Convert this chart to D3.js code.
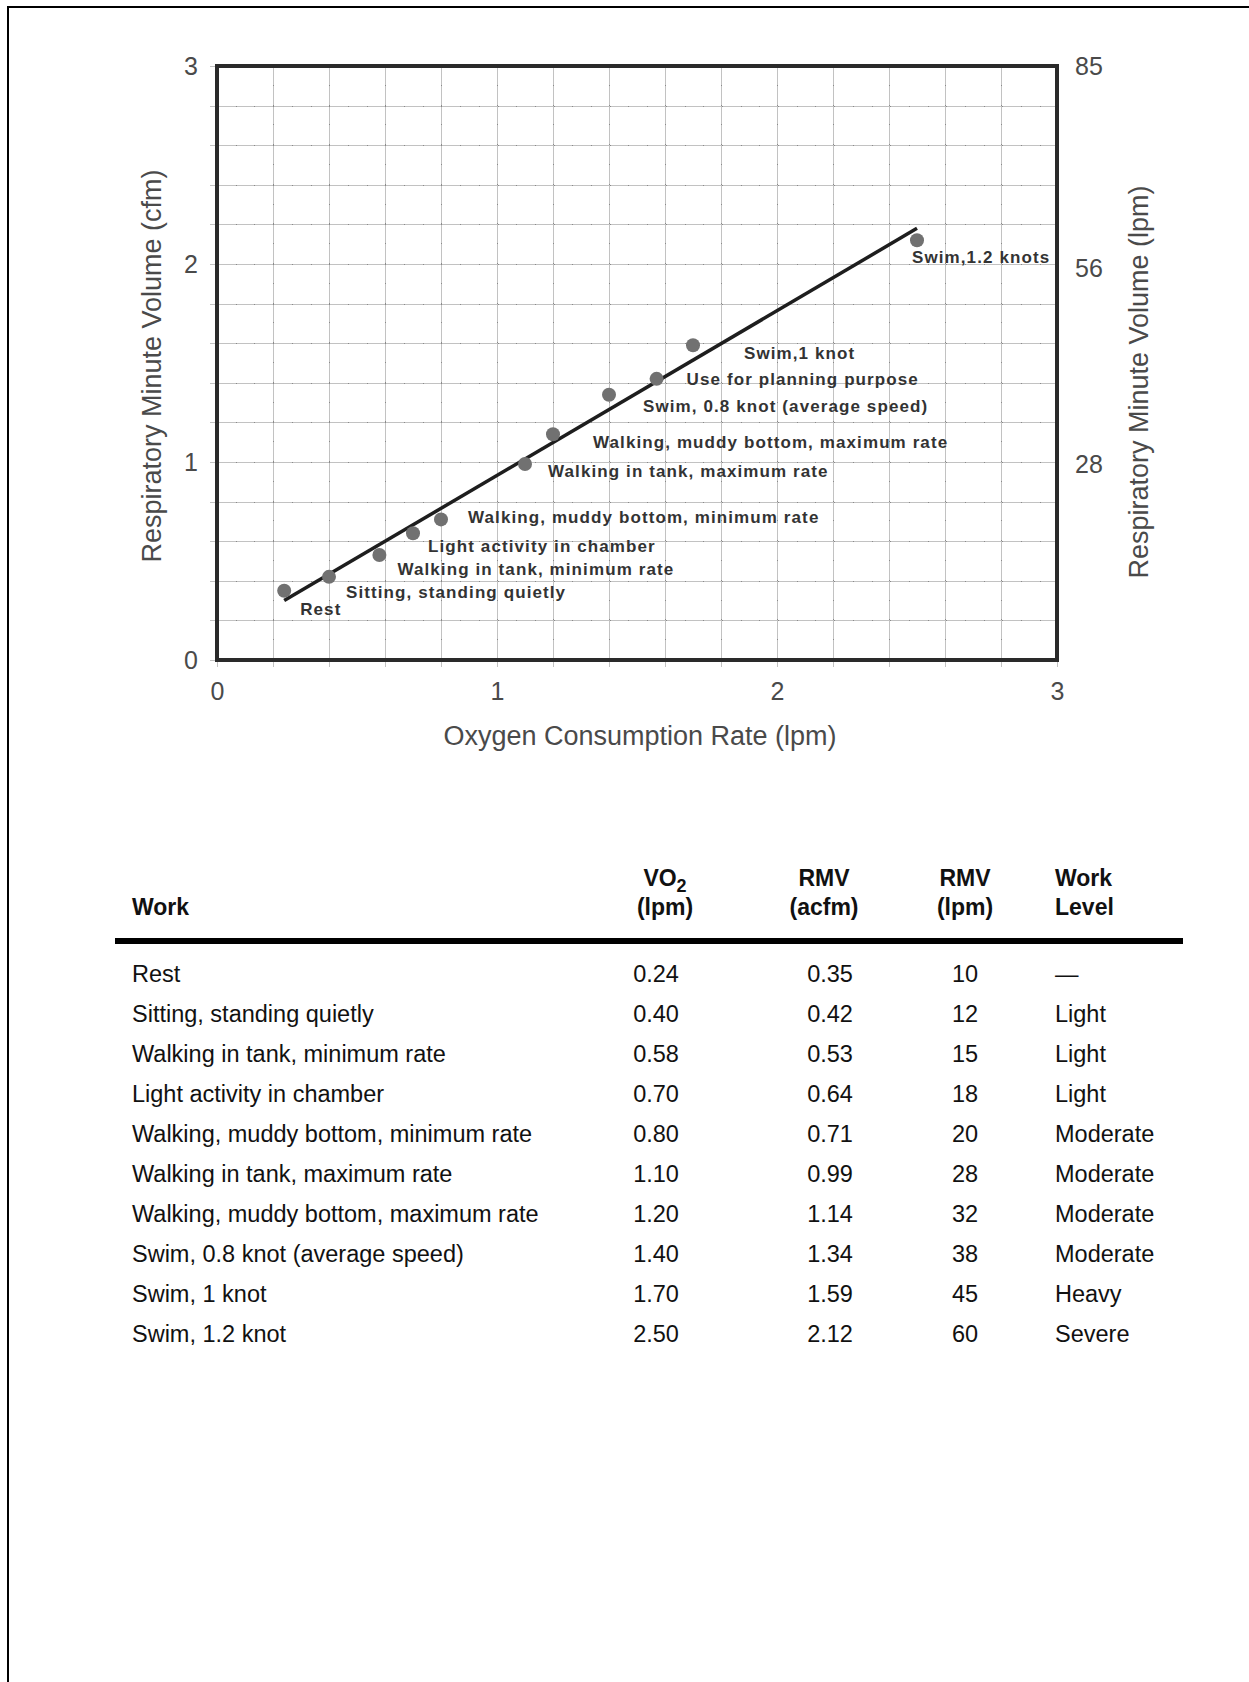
<!DOCTYPE html>
<html>
<head>
<meta charset="utf-8">
<script src="https://cdn.jsdelivr.net/npm/d3@7"></script>
<style>
  body { margin: 0; background: #fff; }
  svg { display: block; }
</style>
</head>
<body>
<div id="chart"></div>
<script>
// table data
var workNames = ["Rest", "Sitting, standing quietly", "Walking in tank, minimum rate",
    "Light activity in chamber", "Walking, muddy bottom, minimum rate",
    "Walking in tank, maximum rate", "Walking, muddy bottom, maximum rate",
    "Swim, 0.8 knot (average speed)", "Swim, 1 knot", "Swim, 1.2 knot"];
var vo2 = [0.24, 0.40, 0.58, 0.70, 0.80, 1.10, 1.20, 1.40, 1.70, 2.50];
var rmvAcfm = [0.35, 0.42, 0.53, 0.64, 0.71, 0.99, 1.14, 1.34, 1.59, 2.12];
var rmvLpm = [10, 12, 15, 18, 20, 28, 32, 38, 45, 60];
var workLevel = ["\u2014", "Light", "Light", "Light", "Moderate", "Moderate", "Moderate", "Moderate", "Heavy", "Severe"];

// chart annotations (as written on the graph)
var chartLabels = ["Rest", "Sitting, standing quietly", "Walking in tank, minimum rate",
    "Light activity in chamber", "Walking, muddy bottom, minimum rate",
    "Walking in tank, maximum rate", "Walking, muddy bottom, maximum rate",
    "Swim, 0.8 knot (average speed)", "Swim,1 knot", "Swim,1.2 knots"];
var planLabel = "Use for planning purpose";
var planVo2 = 1.57;
var planRmv = 1.42;

// fitted line ends
var fitX = [0.24, 2.50];
var fitY = [0.30, 2.18];

var xTicks = [0, 1, 2, 3];
var yTicks = [0, 1, 2, 3];
var y2Ticks = [28, 56, 85];

function init() {
    var W = 1249, H = 1682;
    var left = 217, top = 66, pw = 840, ph = 594;

    var svg = d3.select("#chart").append("svg")
        .attr("width", W).attr("height", H);

    // page frame
    svg.append("line").attr("x1", 8).attr("y1", 7).attr("x2", 8).attr("y2", H)
        .attr("stroke", "#000").attr("stroke-width", 2);
    svg.append("line").attr("x1", 7).attr("y1", 7).attr("x2", W).attr("y2", 7)
        .attr("stroke", "#000").attr("stroke-width", 2);

    var x = d3.scaleLinear().domain([0, 3]).range([left, left + pw]);
    var y = d3.scaleLinear().domain([0, 3]).range([top + ph, top]);
    var y2 = d3.scaleLinear().domain([0, 85]).range([top + ph, top]);

    // grid (extends a little outside to the left / below)
    var gx = svg.append("g")
        .attr("transform", "translate(0," + (top + ph + 7) + ")")
        .call(d3.axisBottom(x).tickValues(d3.range(0, 3.01, 0.2)).tickSize(-(ph + 7)).tickFormat(""));
    var gy = svg.append("g")
        .attr("transform", "translate(" + (left - 7) + ",0)")
        .call(d3.axisLeft(y).tickValues(d3.range(0, 3.01, 0.2)).tickSize(-(pw + 7)).tickFormat(""));
    [gx, gy].forEach(function(g) {
        g.select(".domain").remove();
        g.selectAll("line").attr("stroke", "#c2c2c2").attr("stroke-width", 1)
            .attr("shape-rendering", "crispEdges");
    });
    // dotted minor marks along the grid
    gx.selectAll(".tick").append("line")
        .attr("y1", -7).attr("y2", -(ph + 7))
        .attr("stroke", "#8a8a8a").attr("stroke-width", 1)
        .attr("stroke-dasharray", "1,18.8").attr("shape-rendering", "crispEdges");
    gy.selectAll(".tick").append("line")
        .attr("x1", 7).attr("x2", pw + 7)
        .attr("stroke", "#8a8a8a").attr("stroke-width", 1)
        .attr("stroke-dasharray", "1,17.7").attr("shape-rendering", "crispEdges");

    // plot frame
    svg.append("rect")
        .attr("x", left).attr("y", top).attr("width", pw).attr("height", ph)
        .attr("fill", "none").attr("stroke", "#2a2a2a").attr("stroke-width", 4);

    // tick labels
    var tickFont = "'Liberation Sans', Arial, sans-serif";
    var ax = svg.append("g").attr("transform", "translate(0," + (top + ph) + ")")
        .call(d3.axisBottom(x).tickValues(xTicks).tickSize(0).tickPadding(22).tickFormat(d3.format("d")));
    var ay = svg.append("g").attr("transform", "translate(" + left + ",0)")
        .call(d3.axisLeft(y).tickValues(yTicks).tickSize(0).tickPadding(19).tickFormat(d3.format("d")));
    var ay2 = svg.append("g").attr("transform", "translate(" + (left + pw) + ",0)")
        .call(d3.axisRight(y2).tickValues(y2Ticks).tickSize(0).tickPadding(18).tickFormat(d3.format("d")));
    [ax, ay, ay2].forEach(function(g) {
        g.select(".domain").remove();
        g.selectAll("text").attr("font-family", tickFont).attr("font-size", 25).attr("fill", "#4a4a4a");
    });

    // axis titles
    svg.append("text")
        .attr("x", 640).attr("y", 745)
        .attr("text-anchor", "middle")
        .attr("font-family", tickFont).attr("font-size", 27).attr("fill", "#4a4a4a")
        .text("Oxygen Consumption Rate (lpm)");
    svg.append("text")
        .attr("transform", "translate(161,366) rotate(-90)")
        .attr("text-anchor", "middle")
        .attr("font-family", tickFont).attr("font-size", 27).attr("fill", "#4a4a4a")
        .text("Respiratory Minute Volume (cfm)");
    svg.append("text")
        .attr("transform", "translate(1148,382) rotate(-90)")
        .attr("text-anchor", "middle")
        .attr("font-family", tickFont).attr("font-size", 27).attr("fill", "#4a4a4a")
        .text("Respiratory Minute Volume (lpm)");

    // fitted line
    var line = d3.line().x(function(d) { return x(d[0]); }).y(function(d) { return y(d[1]); });
    svg.append("path")
        .datum(d3.zip(fitX, fitY))
        .attr("d", line)
        .attr("fill", "none").attr("stroke", "#1e1e1e").attr("stroke-width", 3.5);

    // points
    var pts = vo2.map(function(v, i) { return { x: v, y: rmvAcfm[i], label: chartLabels[i] }; });
    pts.push({ x: planVo2, y: planRmv, label: planLabel });
    var labelOffsets = [[16, 24], [17, 21], [18, 20], [15, 19], [27, 4], [23, 13], [40, 14],
        [34, 17], [51, 14], [-5, 23], [30, 6]];

    svg.selectAll("circle.pt")
        .data(pts).enter().append("circle")
        .attr("class", "pt")
        .attr("cx", function(d) { return x(d.x); })
        .attr("cy", function(d) { return y(d.y); })
        .attr("r", 7)
        .attr("fill", "#717171");

    svg.selectAll("text.lbl")
        .data(pts).enter().append("text")
        .attr("class", "lbl")
        .attr("x", function(d, i) { return x(d.x) + labelOffsets[i][0]; })
        .attr("y", function(d, i) { return y(d.y) + labelOffsets[i][1]; })
        .attr("font-family", tickFont).attr("font-weight", "bold")
        .attr("font-size", 17).attr("letter-spacing", 1.1)
        .attr("fill", "#333")
        .text(function(d) { return d.label; });

    // table
    var tFont = "'Liberation Sans', Arial, Helvetica, sans-serif";
    var colWork = 132, colVo2 = 665, colAcfm = 824, colLpm = 965, colLevel = 1055;
    var head = svg.append("g").attr("font-family", tFont).attr("font-weight", "bold")
        .attr("font-size", 23).attr("fill", "#111");
    head.append("text").attr("x", colWork).attr("y", 915).text("Work");
    var vo = head.append("text").attr("x", colVo2).attr("y", 886).attr("text-anchor", "middle");
    vo.append("tspan").text("VO");
    vo.append("tspan").attr("dy", 6).attr("font-size", 18).text("2");
    head.append("text").attr("x", colVo2).attr("y", 915).attr("text-anchor", "middle").text("(lpm)");
    head.append("text").attr("x", colAcfm).attr("y", 886).attr("text-anchor", "middle").text("RMV");
    head.append("text").attr("x", colAcfm).attr("y", 915).attr("text-anchor", "middle").text("(acfm)");
    head.append("text").attr("x", colLpm).attr("y", 886).attr("text-anchor", "middle").text("RMV");
    head.append("text").attr("x", colLpm).attr("y", 915).attr("text-anchor", "middle").text("(lpm)");
    head.append("text").attr("x", colLevel).attr("y", 886).text("Work");
    head.append("text").attr("x", colLevel).attr("y", 915).text("Level");

    svg.append("rect").attr("x", 115).attr("y", 938).attr("width", 1068).attr("height", 6).attr("fill", "#000");

    var rowY = d3.scaleLinear().domain([0, 1]).range([982, 1022]);
    var rows = svg.append("g").attr("font-family", tFont).attr("font-size", 23.5).attr("fill", "#111")
        .selectAll("g").data(workNames).enter().append("g")
        .attr("transform", function(d, i) { return "translate(0," + rowY(i) + ")"; });
    rows.append("text").attr("x", colWork).text(function(d) { return d; });
    rows.append("text").attr("x", colVo2 - 9).attr("text-anchor", "middle")
        .text(function(d, i) { return vo2[i].toFixed(2); });
    rows.append("text").attr("x", colAcfm + 6).attr("text-anchor", "middle")
        .text(function(d, i) { return rmvAcfm[i].toFixed(2); });
    rows.append("text").attr("x", colLpm).attr("text-anchor", "middle")
        .text(function(d, i) { return rmvLpm[i]; });
    rows.append("text").attr("x", colLevel).text(function(d, i) { return workLevel[i]; });
}
window.onload = init;
</script>
</body>
</html>
